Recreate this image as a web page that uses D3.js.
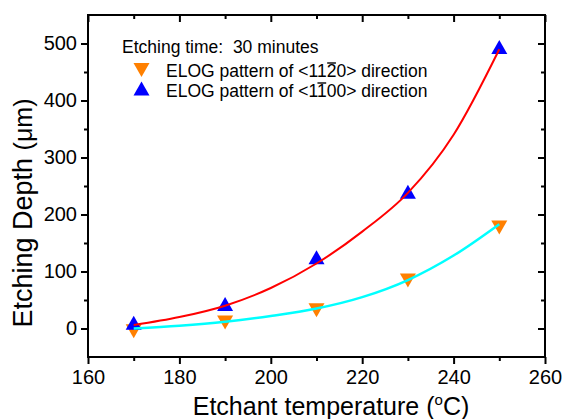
<!DOCTYPE html>
<html>
<head>
<meta charset="utf-8">
<script src="https://cdn.jsdelivr.net/npm/d3@7"></script>
<style>
  body { margin: 0; background: #fff; }
  text { font-family: "Liberation Sans", Arial, sans-serif; fill: #000; }
</style>
</head>
<body>
<script>
// measured points
const temps = [170, 190, 210, 230, 250]
const depth1120 = [-5, 10.5, 32, 84, 177]
const depth1100 = [10, 43, 125, 240, 494]

// fit curves
const fitTemps = [170, 180, 190, 200, 210, 220, 230, 240, 250]
const fit1100 = [6, 20, 40, 71, 114, 170, 238, 340, 490]
const fit1120 = [0, 5, 12, 22, 35, 55, 85, 128, 183]

const xMajor = [160, 180, 200, 220, 240, 260]
const xMinor = [170, 190, 210, 230, 250]
const yMajor = [0, 100, 200, 300, 400, 500]
const yMinor = [50, 150, 250, 350, 450]

const legendTitle = "Etching time:  30 minutes"
const legendRows = [
    { pre: "ELOG pattern of <11", bar: "2", post: "0> direction", color: "#ff8000", dir: "down" },
    { pre: "ELOG pattern of <1", bar: "1", post: "00> direction", color: "#0000ff", dir: "up" }
]

const W = 564, H = 419
const margin = { top: 15, right: 19, bottom: 62, left: 88 }
const width = W - margin.left - margin.right,
    height = H - margin.top - margin.bottom

const svg = d3.select("body").append("svg")
    .attr("width", W)
    .attr("height", H)

const g = svg.append("g")
    .attr("transform", "translate(" + margin.left + "," + margin.top + ")")

const x = d3.scaleLinear().domain([160, 260]).range([0, width])
const y = d3.scaleLinear().domain([-50, 550]).range([height, 0])

// triangle centred on its box
const tri = (dir) => dir == "up" ? "M0,-7L8,7L-8,7Z" : "M0,7L8,-7L-8,-7Z"

//******** AXES */
function styleAxis(sel) {
    sel.select(".domain").remove()
    sel.selectAll(".tick line").attr("stroke", "#000").attr("stroke-width", 2)
    sel.selectAll(".tick text").style("font-size", "20px").style("font-family", '"Liberation Sans", Arial, sans-serif')
}

const axes_g = g.append("g").attr("class", "axes_g")

axes_g.append("g").attr("transform", "translate(0," + height + ")")
    .call(d3.axisBottom(x).tickValues(xMajor).tickSize(7).tickPadding(6))
    .call(styleAxis)
axes_g.append("g").attr("transform", "translate(0," + height + ")")
    .call(d3.axisBottom(x).tickValues(xMinor).tickSize(4).tickFormat(""))
    .call(styleAxis)
axes_g.append("g")
    .call(d3.axisBottom(x).tickValues(xMajor).tickSize(7).tickFormat(""))
    .call(styleAxis)
axes_g.append("g")
    .call(d3.axisBottom(x).tickValues(xMinor).tickSize(4).tickFormat(""))
    .call(styleAxis)

axes_g.append("g")
    .call(d3.axisLeft(y).tickValues(yMajor).tickSize(7).tickPadding(4))
    .call(styleAxis)
axes_g.append("g")
    .call(d3.axisLeft(y).tickValues(yMinor).tickSize(4).tickFormat(""))
    .call(styleAxis)
axes_g.append("g").attr("transform", "translate(" + width + ",0)")
    .call(d3.axisLeft(y).tickValues(yMajor).tickSize(7).tickFormat(""))
    .call(styleAxis)
axes_g.append("g").attr("transform", "translate(" + width + ",0)")
    .call(d3.axisLeft(y).tickValues(yMinor).tickSize(4).tickFormat(""))
    .call(styleAxis)

g.append("rect")
    .attr("width", width)
    .attr("height", height)
    .attr("fill", "none")
    .attr("stroke", "#000")
    .attr("stroke-width", 2)

//******** MARKERS + FITS */
const marks_g = g.append("g").attr("class", "marks_g")

marks_g.selectAll("path.m1120").data(temps).join("path")
    .attr("class", "m1120")
    .attr("d", tri("down"))
    .attr("fill", "#ff8000")
    .attr("transform", (d, i) => "translate(" + x(d) + "," + y(depth1120[i]) + ")")

marks_g.selectAll("path.m1100").data(temps).join("path")
    .attr("class", "m1100")
    .attr("d", tri("up"))
    .attr("fill", "#0000ff")
    .attr("transform", (d, i) => "translate(" + x(d) + "," + y(depth1100[i]) + ")")

const line = d3.line()
    .x(d => x(d[0]))
    .y(d => y(d[1]))
    .curve(d3.curveMonotoneX)

marks_g.append("path")
    .attr("d", line(d3.zip(fitTemps, fit1120)))
    .attr("fill", "none")
    .attr("stroke", "#00ffff")
    .attr("stroke-width", 2.5)

marks_g.append("path")
    .attr("d", line(d3.zip(fitTemps, fit1100)))
    .attr("fill", "none")
    .attr("stroke", "#ff0000")
    .attr("stroke-width", 2)

//******** LEGEND */
const legend_g = svg.append("g").attr("class", "legend_g")

legend_g.append("text")
    .attr("x", 122).attr("y", 53)
    .style("font-size", "17.5px")
    .style("white-space", "pre")
    .text(legendTitle)

legendRows.forEach((r, i) => {
    const base = 76.5 + i * 20
    legend_g.append("path")
        .attr("d", tri(r.dir))
        .attr("fill", r.color)
        .attr("transform", "translate(141.5," + (base - 6.5 - (r.dir == "up" ? 1.5 : 0)) + ")")
    const t = legend_g.append("text")
        .attr("x", 166).attr("y", base)
        .style("font-size", "17.5px")
    t.append("tspan").text(r.pre)
    t.append("tspan").text(r.bar)
    t.append("tspan").text(r.post)
    const idx = r.pre.length
    const n = t.node()
    const x0 = n.getStartPositionOfChar(idx).x,
        x1 = n.getEndPositionOfChar(idx).x
    legend_g.append("line")
        .attr("x1", x0 + 0.5).attr("x2", x1 - 0.5)
        .attr("y1", base - 13.5).attr("y2", base - 13.5)
        .attr("stroke", "#000")
        .attr("stroke-width", 1.4)
})

//** labels */
const xl = svg.append("text")
    .attr("x", 331).attr("y", 415)
    .attr("text-anchor", "middle")
    .style("font-size", "25px")
xl.append("tspan").text("Etchant temperature (")
xl.append("tspan").attr("dy", -10).style("font-size", "15px").text("o")
xl.append("tspan").attr("dy", 10).text("C)")

const yl = svg.append("text")
    .attr("transform", "translate(32,213) rotate(-90)")
    .attr("text-anchor", "middle")
    .style("font-size", "27px")
yl.append("tspan").text("Etching Depth ")
yl.append("tspan").style("font-size", "25px").text("(μm)")
</script>
</body>
</html>
